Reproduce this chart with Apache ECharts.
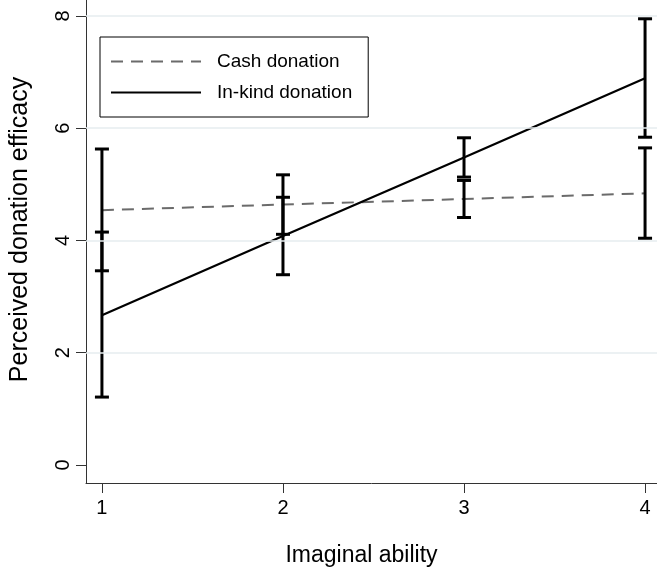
<!DOCTYPE html>
<html><head><meta charset="utf-8">
<script src="https://cdn.jsdelivr.net/npm/echarts@6/dist/echarts.min.js"></script>
<style>html,body{margin:0;padding:0;background:#fff}#c{width:657px;height:573px}</style>
</head><body><div id="c"></div>
<script>
const xValues = [1, 2, 3, 4];
const cashMean = [4.54, 4.64, 4.74, 4.84];
const cashLow = [3.46, 4.11, 4.41, 4.04];
const cashHigh = [5.63, 5.17, 5.07, 5.65];
const kindMean = [2.67, 4.08, 5.48, 6.89];
const kindLow = [1.21, 3.39, 5.13, 5.84];
const kindHigh = [4.15, 4.77, 5.83, 7.95];
const xTicks = [1, 2, 3, 4];
const yTicks = [0, 2, 4, 6, 8];
const gridYs = [2, 4, 6, 8];
const seriesNames = ['Cash donation', 'In-kind donation'];

const FONT = '"Liberation Sans", Arial, Helvetica, sans-serif';
const chart = echarts.init(document.getElementById('c'));

function errData(lo, hi) { return xValues.map((x, i) => [x, lo[i], hi[i]]); }
function errRender(params, api) {
  const x = api.value(0);
  const p1 = api.coord([x, api.value(1)]);
  const p2 = api.coord([x, api.value(2)]);
  const hw = 7;
  const st = { stroke: '#000', lineWidth: 3 };
  return { type: 'group', children: [
    { type: 'line', shape: { x1: p1[0], y1: p1[1], x2: p2[0], y2: p2[1] }, style: st },
    { type: 'line', shape: { x1: p1[0]-hw, y1: p1[1], x2: p1[0]+hw, y2: p1[1] }, style: st },
    { type: 'line', shape: { x1: p2[0]-hw, y1: p2[1], x2: p2[0]+hw, y2: p2[1] }, style: st }
  ]};
}

chart.setOption({
  animation: false,
  backgroundColor: '#fff',
  grid: { left: 84, right: 0, top: 0, bottom: 90, containLabel: false },
  legend: {
    data: seriesNames,
    orient: 'vertical', left: 100, top: 37,
    borderColor: '#000', borderWidth: 1, borderRadius: 0,
    padding: [15, 16, 15, 10],
    itemWidth: 90, itemHeight: 14, itemGap: 12,
    itemStyle: { opacity: 0 },
    textStyle: { fontFamily: FONT, fontSize: 19, color: '#000', padding: [0, 0, 0, 11] }
  },
  xAxis: {
    type: 'value', min: 0.912, max: 4.066,
    name: 'Imaginal ability', nameLocation: 'middle', nameGap: 61,
    nameTextStyle: { fontFamily: FONT, fontSize: 23, color: '#000', padding: [0, 20, 0, 0] },
    axisLine: { show: true, onZero: false, lineStyle: { color: '#333', width: 1 } },
    axisTick: { show: true, length: 10, customValues: xTicks, lineStyle: { color: '#333' } },
    axisLabel: { customValues: xTicks, fontFamily: FONT, fontSize: 20, color: '#000', margin: 15 },
    splitLine: { show: false }
  },
  yAxis: {
    type: 'value', min: -0.321, max: 8.285,
    name: 'Perceived donation efficacy', nameLocation: 'middle', nameGap: 53, nameRotate: 90,
    nameTextStyle: { fontFamily: FONT, fontSize: 25, color: '#000', padding: [0, 0, 0, 24] },
    axisLine: { show: true, onZero: false, lineStyle: { color: '#333', width: 1 } },
    axisTick: { show: true, length: 10, customValues: yTicks, lineStyle: { color: '#333' } },
    axisLabel: { customValues: yTicks, rotate: 90, fontFamily: FONT, fontSize: 20, color: '#000', margin: 13 },
    splitLine: { show: false }
  },
  series: [
    {
      name: 'gridlines', type: 'line', data: [], silent: true, z: 1,
      markLine: {
        silent: true, symbol: 'none', label: { show: false },
        lineStyle: { color: '#e6edef', width: 1.5, type: 'solid' },
        data: gridYs.map(v => ({ yAxis: v }))
      }
    },
    {
      name: 'Cash donation', type: 'line', symbol: 'none', z: 3,
      data: xValues.map((x, i) => [x, cashMean[i]]),
      lineStyle: { color: '#6b6b6b', width: 2, type: [12, 8] },
      itemStyle: { color: '#6b6b6b' }
    },
    {
      name: 'In-kind donation', type: 'line', symbol: 'none', z: 3,
      data: xValues.map((x, i) => [x, kindMean[i]]),
      lineStyle: { color: '#000', width: 2.2, type: 'solid' },
      itemStyle: { color: '#000' }
    },
    { name: 'cashErr', type: 'custom', z: 4, renderItem: errRender, data: errData(cashLow, cashHigh) },
    { name: 'kindErr', type: 'custom', z: 4, renderItem: errRender, data: errData(kindLow, kindHigh) }
  ]
});
</script></body></html>
